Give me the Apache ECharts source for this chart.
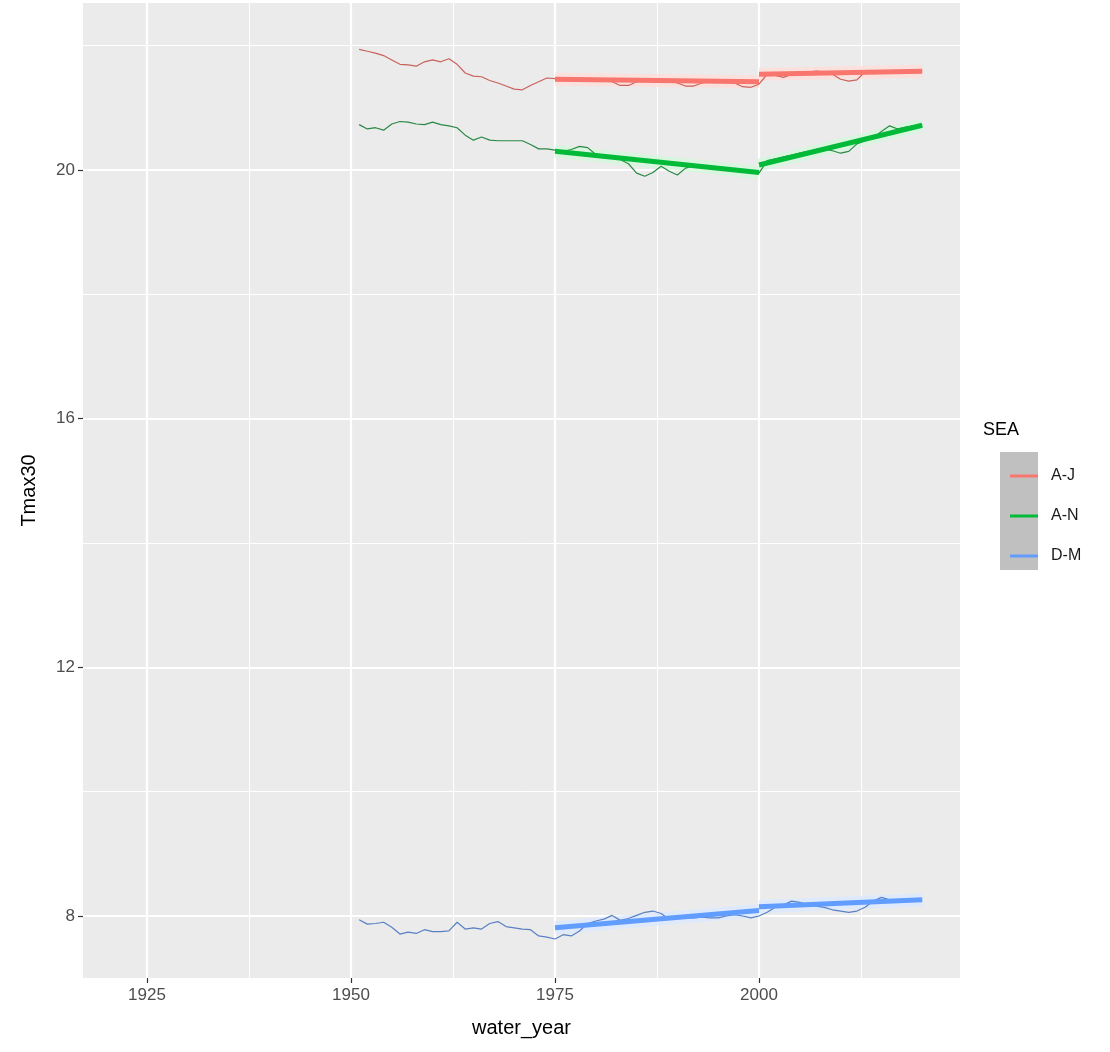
<!DOCTYPE html>
<html>
<head>
<meta charset="utf-8">
<script src="https://cdn.jsdelivr.net/npm/echarts@6/dist/echarts.min.js"></script>
<style>
  html, body { margin: 0; padding: 0; background: #ffffff; }
  #chart { width: 1110px; height: 1052px; }
</style>
</head>
<body>
<div id="chart"></div>
<script>
// Seasonal 30-year running mean of maximum temperature, per season group
const seasons = ['A-J', 'A-N', 'D-M'];
const colors = ['#F8766D', '#00BA38', '#619CFF'];
const thinColors = ['#C9625B', '#2C8846', '#5A80C4'];
const haloColors = ['rgba(255,222,218,0.8)', 'rgba(212,246,220,0.8)', 'rgba(220,234,255,0.85)'];

const years = [];
for (let y = 1951; y <= 2020; y++) years.push(y);

const ajValues = [
  21.94, 21.91, 21.88, 21.84, 21.77, 21.70, 21.69, 21.67, 21.74, 21.77,
  21.74, 21.79, 21.70, 21.56, 21.51, 21.50, 21.44, 21.40, 21.35, 21.30,
  21.29, 21.36, 21.42, 21.48, 21.47, 21.46, 21.48, 21.47, 21.45, 21.44,
  21.44, 21.42, 21.36, 21.36, 21.42, 21.43, 21.44, 21.42, 21.43, 21.40,
  21.35, 21.35, 21.40, 21.42, 21.43, 21.41, 21.40, 21.34, 21.33, 21.38,
  21.54, 21.52, 21.49, 21.54, 21.55, 21.57, 21.59, 21.58, 21.54, 21.46,
  21.43, 21.45, 21.58, 21.59, 21.59, 21.59, 21.60, 21.59, 21.60, 21.60
];
const anValues = [
  20.73, 20.66, 20.68, 20.64, 20.74, 20.78, 20.77, 20.74, 20.73, 20.77,
  20.73, 20.71, 20.68, 20.56, 20.48, 20.53, 20.48, 20.47, 20.47, 20.47,
  20.47, 20.41, 20.34, 20.34, 20.32, 20.30, 20.33, 20.38, 20.36, 20.25,
  20.22, 20.20, 20.17, 20.10, 19.95, 19.90, 19.96, 20.06, 19.98, 19.92,
  20.03, 20.07, 20.05, 20.04, 20.02, 20.01, 19.99, 19.98, 19.96, 19.95,
  20.15, 20.18, 20.21, 20.24, 20.27, 20.30, 20.33, 20.34, 20.31, 20.27,
  20.30, 20.42, 20.47, 20.52, 20.62, 20.71, 20.66, 20.69, 20.71, 20.73
];
const dmValues = [
  7.94, 7.87, 7.88, 7.90, 7.82, 7.71, 7.74, 7.72, 7.78, 7.75,
  7.75, 7.76, 7.90, 7.79, 7.81, 7.79, 7.88, 7.91, 7.83, 7.81,
  7.79, 7.78, 7.68, 7.66, 7.63, 7.70, 7.68, 7.76, 7.88, 7.92,
  7.95, 8.01, 7.93, 7.96, 8.01, 8.06, 8.08, 8.04, 7.95, 7.96,
  7.97, 7.97, 7.98, 7.97, 7.97, 8.00, 8.02, 8.00, 7.97, 8.00,
  8.06, 8.14, 8.18, 8.24, 8.22, 8.18, 8.16, 8.14, 8.10, 8.08,
  8.06, 8.08, 8.14, 8.24, 8.30, 8.26, 8.26, 8.26, 8.26, 8.27
];

// Piecewise linear trend, breakpoint at 2000
const trendYears = [1975, 2000, 2000, 2020];
const ajTrend = [21.46, 21.42, 21.54, 21.59];
const anTrend = [20.30, 19.96, 20.08, 20.72];
const dmTrend = [7.81, 8.09, 8.15, 8.26];

const xTicks = [1925, 1950, 1975, 2000];
const xMinor = [1937.5, 1962.5, 1987.5, 2012.5];
const yTicks = [8, 12, 16, 20];
const yMinor = [10, 14, 18, 22];

const runValues = [ajValues, anValues, dmValues];
const trendValues = [ajTrend, anTrend, dmTrend];

function pairs(xs, vs) { return xs.map((x, i) => [x, vs[i]]); }
function trendSegments(vs) {
  return [
    [trendYears[0], vs[0]], [trendYears[1], vs[1]], '-',
    [trendYears[2], vs[2]], [trendYears[3], vs[3]]
  ];
}

const series = [];

// panel grid lines
series.push({
  type: 'scatter', silent: true, z: 1, symbolSize: 0,
  data: [[1917.16, 7.003]],
  markLine: {
    silent: true, symbol: 'none', animation: false, z: 1,
    label: { show: false },
    data: [].concat(
      xMinor.map(v => ({ xAxis: v, lineStyle: { color: '#ffffff', width: 1, type: 'solid' } })),
      yMinor.map(v => ({ yAxis: v, lineStyle: { color: '#ffffff', width: 1, type: 'solid' } })),
      xTicks.map(v => ({ xAxis: v, lineStyle: { color: '#ffffff', width: 2.2, type: 'solid' } })),
      yTicks.map(v => ({ yAxis: v, lineStyle: { color: '#ffffff', width: 2.2, type: 'solid' } }))
    )
  }
});

seasons.forEach((name, i) => {
  // trend halo
  series.push({
    name: name + ' band', type: 'line', z: 2, silent: true,
    data: trendSegments(trendValues[i]),
    connectNulls: false, showSymbol: false, symbol: 'none',
    lineStyle: { color: haloColors[i], width: 13, cap: 'butt' },
    animation: false
  });
});

seasons.forEach((name, i) => {
  // running mean
  series.push({
    name: name, type: 'line', z: 3,
    data: pairs(years, runValues[i]),
    showSymbol: false, symbol: 'none',
    lineStyle: { color: thinColors[i], width: 1.2 },
    itemStyle: { color: colors[i] },
    animation: false
  });
});

seasons.forEach((name, i) => {
  // fitted trend
  series.push({
    name: name, type: 'line', z: 4,
    data: trendSegments(trendValues[i]),
    connectNulls: false, showSymbol: false, symbol: 'none',
    lineStyle: { color: colors[i], width: 5, cap: 'butt' },
    itemStyle: { color: colors[i] },
    animation: false
  });
});

const chart = echarts.init(document.getElementById('chart'), null, { renderer: 'canvas' });
chart.setOption({
  backgroundColor: '#ffffff',
  animation: false,
  grid: {
    left: 83, top: 3, right: 150, bottom: 74,
    show: true, backgroundColor: '#EBEBEB', borderWidth: 0
  },
  xAxis: {
    type: 'value', min: 1917.16, max: 2024.63,
    name: 'water_year', nameLocation: 'middle', nameGap: 40,
    nameTextStyle: { color: '#000000', fontSize: 20, fontFamily: 'Liberation Sans' },
    axisLine: { show: false },
    splitLine: { show: false },
    axisTick: { show: true, customValues: xTicks, length: 5, lineStyle: { color: '#333333', width: 1.2 } },
    axisLabel: {
      customValues: xTicks, color: '#4D4D4D', fontSize: 17, margin: 9,
      fontFamily: 'Liberation Sans', formatter: v => String(v)
    }
  },
  yAxis: {
    type: 'value', min: 7.003, max: 22.686,
    name: 'Tmax30', nameLocation: 'middle', nameGap: 44, nameRotate: 90,
    nameTextStyle: { color: '#000000', fontSize: 20, fontFamily: 'Liberation Sans' },
    axisLine: { show: false },
    splitLine: { show: false },
    axisTick: { show: true, customValues: yTicks, length: 5, lineStyle: { color: '#333333', width: 1.2 } },
    axisLabel: {
      customValues: yTicks, color: '#4D4D4D', fontSize: 17, margin: 8,
      fontFamily: 'Liberation Sans', formatter: v => String(v)
    }
  },
  legend: {
    data: seasons.map(s => ({ name: s, icon: 'rect' })),
    orient: 'vertical', left: 1005, top: 461,
    itemWidth: 28, itemHeight: 3, itemGap: 20,
    selectedMode: false,
    textStyle: { color: '#1a1a1a', fontSize: 16, fontFamily: 'Liberation Sans', lineHeight: 20, padding: [0, 0, 0, 8] }
  },
  graphic: [
    { type: 'rect', left: 1000, top: 452, z: -1, shape: { width: 38, height: 118 }, style: { fill: '#C0C0C0' } },
    { type: 'text', left: 983, top: 421, style: { text: 'SEA', fill: '#000000', fontSize: 18, fontFamily: 'Liberation Sans' } }
  ],
  series: series
});
</script>
</body>
</html>
